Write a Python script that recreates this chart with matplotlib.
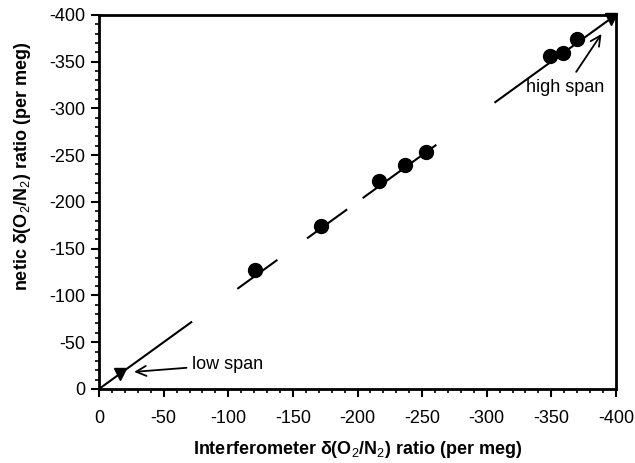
import numpy as np
import matplotlib.pyplot as plt

plt.rcParams['font.family'] = ['Liberation Sans', 'DejaVu Sans']
plt.rcParams['mathtext.fontset'] = 'custom'
plt.rcParams['mathtext.rm'] = 'Liberation Sans'
plt.rcParams['mathtext.bf'] = 'Liberation Sans:bold'
plt.rcParams['axes.unicode_minus'] = False

# sample points (interferometer vs magnetic, per meg)
interf = [-121, -172, -217, -237, -253, -349, -359, -370]
magnetic = [-127, -174, -222, -239, -253, -356, -359, -374]

# span gases
span_x = [-16, -396]
span_y = [-16, -396]

# 1:1 line, drawn as broken pieces like in the original
line_pieces = [(0, -72), (-107, -138), (-161, -192), (-204, -261), (-306, -400)]

ticks = [0, -50, -100, -150, -200, -250, -300, -350, -400]

fig = plt.figure(figsize=(6.35, 4.63), dpi=100)
ax = fig.add_axes([0.156, 0.160, 0.814, 0.808])

for a, b in line_pieces:
    xs = np.array([a, b])
    ax.plot(xs, xs, color='black', lw=1.5, solid_capstyle='butt')

ax.plot(interf, magnetic, 'o', color='black', ms=10)
ax.plot(span_x, span_y, 'v', color='black', ms=9, clip_on=False)

ax.annotate('low span', xy=(-25, -18), xytext=(-72, -26),
            fontsize=13, va='center', ha='left',
            arrowprops=dict(arrowstyle='->', color='black', lw=1.3,
                            mutation_scale=18))
ax.annotate('high span', xy=(-390, -382), xytext=(-361, -322),
            fontsize=13, va='center', ha='center',
            arrowprops=dict(arrowstyle='->', color='black', lw=1.3,
                            mutation_scale=18, shrinkA=4))

ax.set_xlim(0, -400)
ax.set_ylim(0, -400)
ax.set_xticks(ticks)
ax.set_yticks(ticks)
ax.set_xticks(np.arange(0, -401, -10), minor=True)
ax.set_yticks(np.arange(0, -401, -10), minor=True)
ax.tick_params(which='major', direction='out', length=6, width=1.5, labelsize=13, pad=9)
ax.tick_params(which='minor', direction='out', length=3, width=1.2)
ax.tick_params(axis='y', pad=4)
for s in ax.spines.values():
    s.set_linewidth(2)

ax.set_xlabel(r'Interferometer δ(O$_2$/N$_2$) ratio (per meg)',
              fontsize=13, fontweight='bold', labelpad=9)
fig.text(0.035, 1 - 42 / 463, r'netic δ(O$_2$/N$_2$) ratio (per meg)',
         rotation=90, va='top', ha='center', fontsize=13, fontweight='bold')

fig.savefig('out.png', dpi=100)
